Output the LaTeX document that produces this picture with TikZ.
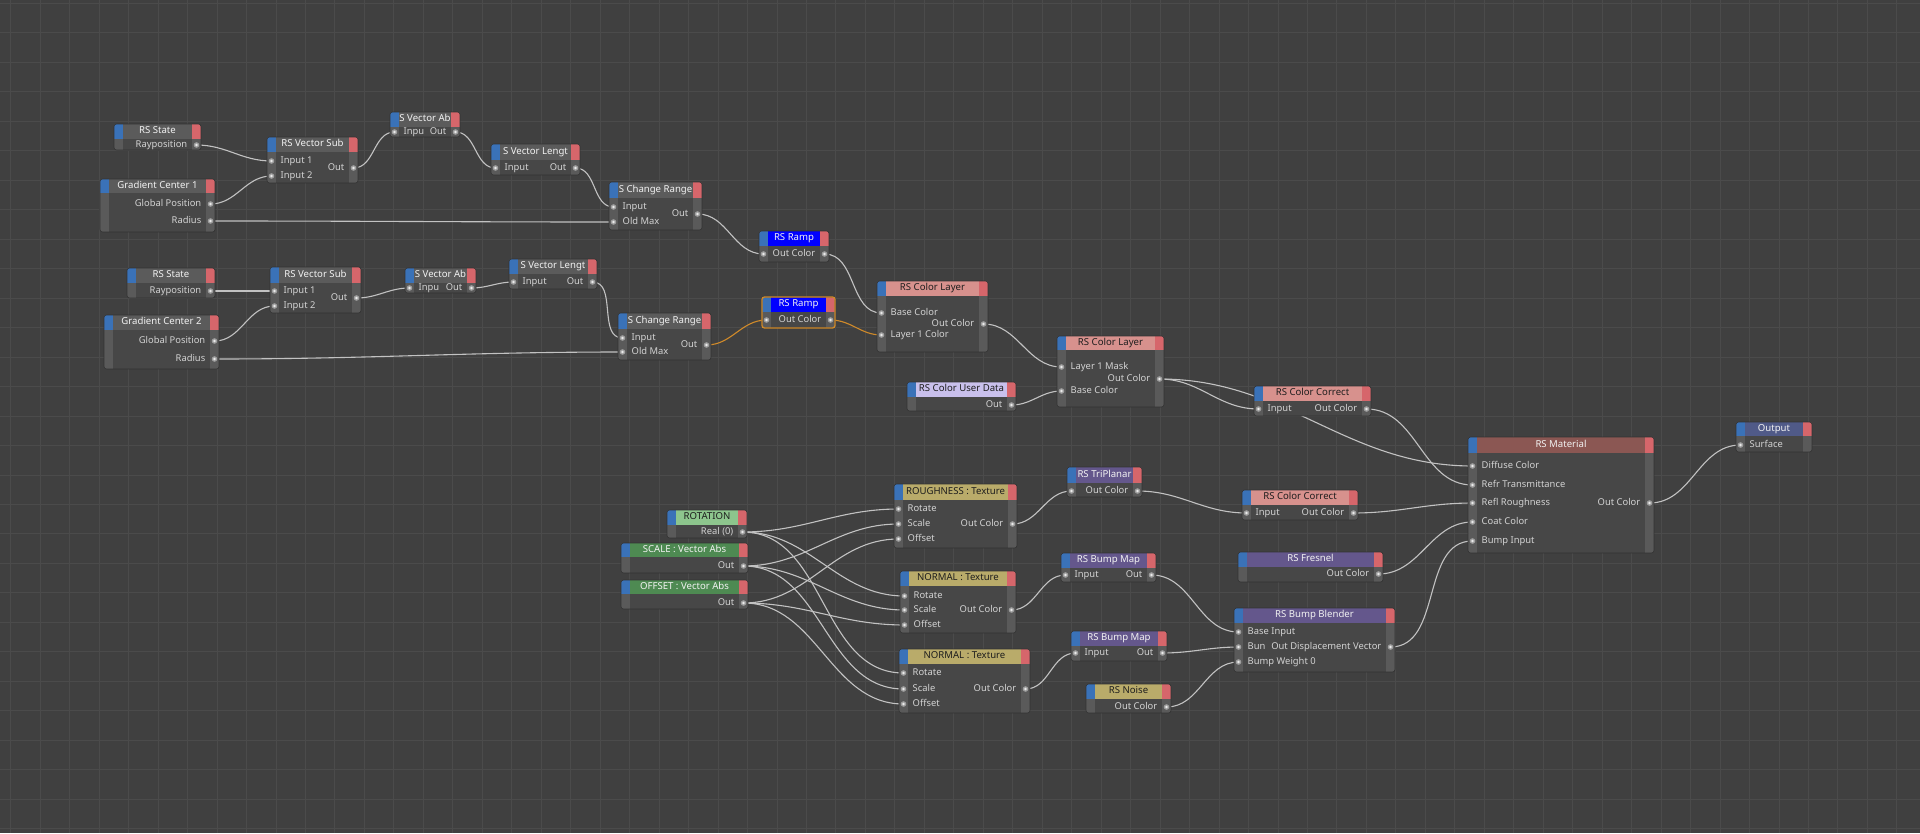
\documentclass[tikz,border=0pt]{standalone}
\usepackage{fontspec}
\setmainfont{Noto Sans}
\usepackage{tikz}

\definecolor{canvas}{HTML}{404040}
\definecolor{gridgray}{HTML}{4B4B4B}
\definecolor{bodygray}{HTML}{474747}
\definecolor{colgray}{HTML}{5A5A5A}
\definecolor{boxedge}{HTML}{333333}
\definecolor{stripblue}{HTML}{3A72B8}
\definecolor{stripred}{HTML}{D6666B}
\definecolor{hdrgray}{HTML}{5B5B5B}
\definecolor{hdrramp}{HTML}{0000FF}
\definecolor{hdrpink}{HTML}{D7918D}
\definecolor{hdrmat}{HTML}{8B5753}
\definecolor{hdrout}{HTML}{505A88}
\definecolor{hdrpurple}{HTML}{64578C}
\definecolor{hdrkhaki}{HTML}{B9AB6A}
\definecolor{hdrmint}{HTML}{8DC58D}
\definecolor{hdrgreen}{HTML}{4E8A52}
\definecolor{hdrlav}{HTML}{C9C0EC}
\definecolor{wiregray}{HTML}{C2C2C2}
\definecolor{wireorange}{HTML}{D08A2A}
\definecolor{labelgray}{HTML}{D2D2D2}
\definecolor{titlelight}{HTML}{F2F2F2}
\definecolor{titledark}{HTML}{1E1E1E}

\pgfdeclarelayer{canvaslayer}
\pgfdeclarelayer{wirelayer}
\pgfsetlayers{canvaslayer,wirelayer,main}

% box: name, left, top, right, header bottom, bottom, header colour, title colour, title
\newcommand{\rsbox}[9]{%
	\begin{scope}
		\clip[rounded corners=2.5pt] (#2,#3) rectangle (#4,#6);
		\fill[colgray] (#2,#3) rectangle (#4,#6);
		\fill[bodygray] ({#2+9},#5) rectangle ({#4-9},#6);
		\fill[stripblue] (#2,#3) rectangle ({#2+9},#5);
		\fill[#7] ({#2+9},#3) rectangle ({#4-9},#5);
		\node[boxtitle, text=#8] (#1) at ({(#2+#4)/2},{(#3+#5)/2}) {#9};
		\fill[stripred] ({#4-9},#3) rectangle (#4,#5);
	\end{scope}
	\draw[boxline] (#2,#3) rectangle (#4,#6);}
% ports: name, x, y, label
\newcommand{\inport}[4]{%
	\coordinate (#1) at (#2,#3);
	\fill[portring] (#1) circle (2.8pt);
	\fill[portdot] (#1) circle (1.3pt);
	\node[portlabel, anchor=west] (#1-txt) at ({#2+9},#3) {#4};}
\newcommand{\outport}[4]{%
	\coordinate (#1) at (#2,#3);
	\fill[portring] (#1) circle (2.8pt);
	\fill[portdot] (#1) circle (1.3pt);
	\node[portlabel, anchor=east] (#1-txt) at ({#2-9},#3) {#4};}

\begin{document}
\begin{tikzpicture}[x=1pt, y=-1pt,
	boxtitle/.style={inner sep=0pt, font=\fontsize{9.6}{11}\selectfont, text height=6.9pt, text depth=2pt},
	portlabel/.style={inner sep=0pt, text=labelgray, font=\fontsize{9.4}{11}\selectfont, text height=6.8pt, text depth=2pt},
	boxline/.style={draw=boxedge, line width=0.6pt, rounded corners=2.5pt},
	selline/.style={draw=wireorange, line width=1.3pt, rounded corners=2.5pt},
	portring/.style={fill=gray!75},
	portdot/.style={fill=white!92!black},
	gridline/.style={draw=gridgray, line width=1pt},
	wire/.style={draw=wiregray, line width=1.1pt, out=0, in=180},
	hotwire/.style={wire, draw=wireorange}]
	\useasboundingbox (0,0) rectangle (1920,833);
	\begin{pgfonlayer}{canvaslayer}
		% Canvas
		\fill[canvas] (0,0) rectangle (1920,833);
		\foreach \gx in {0,...,65} \draw[gridline] ({10.8+\gx*29.47},0) -- ++(0,833);
		\foreach \gy in {0,...,28} \draw[gridline] (0,{3.5+\gy*29.47}) -- ++(1920,0);
	\end{pgfonlayer}
	% Gradient 1
	\rsbox{state1}{114}{124}{201}{139}{150}{hdrgray}{titlelight}{RS State}
	\outport{state1-ray}{196.5}{145}{Rayposition}
	\rsbox{gc1}{100}{179}{215}{193}{232}{hdrgray}{titlelight}{Gradient Center 1}
	\outport{gc1-pos}{210.5}{204}{Global Position}
	\outport{gc1-rad}{210.5}{221}{Radius}
	\rsbox{sub1}{267}{137}{358}{152}{183}{hdrgray}{titlelight}{RS Vector Sub}
	\inport{sub1-in1}{271.5}{161}{Input 1}
	\inport{sub1-in2}{271.5}{176}{Input 2}
	\outport{sub1-out}{353.5}{168}{Out}
	\rsbox{abs1}{390}{112}{460}{127}{137}{hdrgray}{titlelight}{S Vector Ab}
	\inport{abs1-in}{394.5}{132}{Inpu}
	\outport{abs1-out}{455.5}{132}{Out}
	\rsbox{len1}{491}{144}{580}{160}{175}{hdrgray}{titlelight}{S Vector Lengt}
	\inport{len1-in}{495.5}{168}{Input}
	\outport{len1-out}{575.5}{168}{Out}
	\rsbox{cr1}{609}{182}{702}{198}{230}{hdrgray}{titlelight}{S Change Range}
	\inport{cr1-in}{613.5}{207}{Input}
	\inport{cr1-max}{613.5}{222}{Old Max}
	\outport{cr1-out}{697.5}{214}{Out}
	% Gradient 2
	\rsbox{state2}{127}{268}{215}{283}{298}{hdrgray}{titlelight}{RS State}
	\outport{state2-ray}{210.5}{291}{Rayposition}
	\rsbox{gc2}{104}{315}{219}{330}{369}{hdrgray}{titlelight}{Gradient Center 2}
	\outport{gc2-pos}{214.5}{341}{Global Position}
	\outport{gc2-rad}{214.5}{359}{Radius}
	\rsbox{sub2}{270}{267}{361}{283}{313}{hdrgray}{titlelight}{RS Vector Sub}
	\inport{sub2-in1}{274.5}{291}{Input 1}
	\inport{sub2-in2}{274.5}{306}{Input 2}
	\outport{sub2-out}{356.5}{298}{Out}
	\rsbox{abs2}{405}{268}{476}{283}{293}{hdrgray}{titlelight}{S Vector Ab}
	\inport{abs2-in}{409.5}{288}{Inpu}
	\outport{abs2-out}{471.5}{288}{Out}
	\rsbox{len2}{509}{259}{597}{274}{289}{hdrgray}{titlelight}{S Vector Lengt}
	\inport{len2-in}{513.5}{282}{Input}
	\outport{len2-out}{592.5}{282}{Out}
	\rsbox{cr2}{618}{313}{711}{329}{360}{hdrgray}{titlelight}{S Change Range}
	\inport{cr2-in}{622.5}{338}{Input}
	\inport{cr2-max}{622.5}{352}{Old Max}
	\outport{cr2-out}{706.5}{345}{Out}
	% Ramps and layers
	\rsbox{ramp1}{759}{231}{829}{246}{262}{hdrramp}{titlelight}{RS Ramp}
	\inport{ramp1-in}{763.5}{254}{}
	\outport{ramp1-out}{824.5}{254}{Out Color}
	\rsbox{ramp2}{762}{297}{835}{312}{328}{hdrramp}{titlelight}{RS Ramp}
	\draw[selline] (762,297) rectangle (835,328);
	\inport{ramp2-in}{766.5}{320}{}
	\outport{ramp2-out}{830.5}{320}{Out Color}
	\rsbox{cl1}{877}{281}{988}{296}{352}{hdrpink}{titledark}{RS Color Layer}
	\inport{cl1-base}{881.5}{313}{Base Color}
	\inport{cl1-layer}{881.5}{335}{Layer 1 Color}
	\outport{cl1-out}{983.5}{324}{Out Color}
	\rsbox{cl2}{1057}{336}{1164}{350}{407}{hdrpink}{titledark}{RS Color Layer}
	\inport{cl2-mask}{1061.5}{367}{Layer 1 Mask}
	\inport{cl2-base}{1061.5}{391}{Base Color}
	\outport{cl2-out}{1159.5}{379}{Out Color}
	\rsbox{ud}{907}{382}{1016}{397}{411}{hdrlav}{titledark}{RS Color User Data}
	\outport{ud-out}{1011.5}{405}{Out}
	\rsbox{cc1}{1254}{386}{1371}{401}{416}{hdrpink}{titledark}{RS Color Correct}
	\inport{cc1-in}{1258.5}{409}{Input}
	\outport{cc1-out}{1366.5}{409}{Out Color}
	% Material
	\rsbox{mat}{1468}{437}{1654}{453}{553}{hdrmat}{titlelight}{RS Material}
	\inport{mat-diff}{1472.5}{466}{Diffuse Color}
	\inport{mat-refr}{1472.5}{485}{Refr Transmittance}
	\inport{mat-refl}{1472.5}{503}{Refl Roughness}
	\inport{mat-coat}{1472.5}{522}{Coat Color}
	\inport{mat-bump}{1472.5}{541}{Bump Input}
	\outport{mat-out}{1649.5}{503}{Out Color}
	\rsbox{outp}{1736}{422}{1812}{436}{452}{hdrout}{titlelight}{Output}
	\inport{outp-surf}{1740.5}{445}{Surface}
	% Texture inputs
	\rsbox{rot}{667}{510}{747}{525}{538}{hdrmint}{titledark}{ROTATION}
	\outport{rot-out}{742.5}{532}{Real (0)}
	\rsbox{scl}{621}{543}{748}{557}{573}{hdrgreen}{titlelight}{SCALE : Vector Abs}
	\outport{scl-out}{743.5}{566}{Out}
	\rsbox{ofs}{621}{580}{748}{594}{609}{hdrgreen}{titlelight}{OFFSET : Vector Abs}
	\outport{ofs-out}{743.5}{603}{Out}
	% Textures
	\rsbox{tex1}{894}{484}{1017}{500}{548}{hdrkhaki}{titledark}{ROUGHNESS : Texture}
	\inport{tex1-rot}{898.5}{509}{Rotate}
	\inport{tex1-scl}{898.5}{524}{Scale}
	\inport{tex1-ofs}{898.5}{539}{Offset}
	\outport{tex1-out}{1012.5}{524}{Out Color}
	\rsbox{tex2}{900}{571}{1016}{586}{633}{hdrkhaki}{titledark}{NORMAL : Texture}
	\inport{tex2-rot}{904.5}{596}{Rotate}
	\inport{tex2-scl}{904.5}{610}{Scale}
	\inport{tex2-ofs}{904.5}{625}{Offset}
	\outport{tex2-out}{1011.5}{610}{Out Color}
	\rsbox{tex3}{899}{649}{1030}{664}{713}{hdrkhaki}{titledark}{NORMAL : Texture}
	\inport{tex3-rot}{903.5}{673}{Rotate}
	\inport{tex3-scl}{903.5}{689}{Scale}
	\inport{tex3-ofs}{903.5}{704}{Offset}
	\outport{tex3-out}{1025.5}{689}{Out Color}
	% Roughness and bump
	\rsbox{tri}{1067}{467}{1142}{483}{497}{hdrpurple}{titlelight}{RS TriPlanar}
	\inport{tri-in}{1071.5}{491}{}
	\outport{tri-out}{1137.5}{491}{Out Color}
	\rsbox{cc2}{1242}{490}{1358}{505}{520}{hdrpink}{titledark}{RS Color Correct}
	\inport{cc2-in}{1246.5}{513}{Input}
	\outport{cc2-out}{1353.5}{513}{Out Color}
	\rsbox{bump1}{1061}{553}{1156}{568}{582}{hdrpurple}{titlelight}{RS Bump Map}
	\inport{bump1-in}{1065.5}{575}{Input}
	\outport{bump1-out}{1151.5}{575}{Out}
	\rsbox{bump2}{1071}{631}{1167}{646}{661}{hdrpurple}{titlelight}{RS Bump Map}
	\inport{bump2-in}{1075.5}{653}{Input}
	\outport{bump2-out}{1162.5}{653}{Out}
	\rsbox{noise}{1086}{684}{1171}{699}{713}{hdrkhaki}{titledark}{RS Noise}
	\outport{noise-out}{1166.5}{707}{Out Color}
	\rsbox{fres}{1238}{552}{1383}{567}{582}{hdrpurple}{titlelight}{RS Fresnel}
	\outport{fres-out}{1378.5}{574}{Out Color}
	\rsbox{blend}{1234}{608}{1395}{623}{672}{hdrpurple}{titlelight}{RS Bump Blender}
	\inport{blend-base}{1238.5}{632}{Base Input}
	\inport{blend-bump}{1238.5}{647}{Bun}
	\inport{blend-weight}{1238.5}{662}{Bump Weight 0}
	\outport{blend-out}{1390.5}{647}{Out Displacement Vector}
	\begin{pgfonlayer}{wirelayer}
		% Wires top
		\draw[wire] (state1-ray) to (sub1-in1);
		\draw[wire] (gc1-pos) to (sub1-in2);
		\draw[wire] (gc1-rad) to (cr1-max);
		\draw[wire] (sub1-out) to (abs1-in);
		\draw[wire] (abs1-out) to (len1-in);
		\draw[wire] (len1-out) to (cr1-in);
		\draw[wire] (cr1-out) to (ramp1-in);
		\draw[wire] (ramp1-out) to (cl1-base);
		\draw[wire] (state2-ray) to (sub2-in1);
		\draw[wire] (gc2-pos) to (sub2-in2);
		\draw[wire] (gc2-rad) to (cr2-max);
		\draw[wire] (sub2-out) to (abs2-in);
		\draw[wire] (abs2-out) to (len2-in);
		\draw[wire] (len2-out) to (cr2-in);
		\draw[hotwire] (cr2-out) to (ramp2-in);
		\draw[hotwire] (ramp2-out) to (cl1-layer);
		\draw[wire] (cl1-out) to (cl2-mask);
		\draw[wire] (ud-out) to (cl2-base);
		\draw[wire] (cl2-out) to (cc1-in);
		\draw[wire] (cl2-out) to (mat-diff);
		\draw[wire] (cc1-out) to (mat-refr);
		\draw[wire] (mat-out) to (outp-surf);
		% Wires bottom
		\foreach \t in {tex1,tex2,tex3} {
			\draw[wire] (rot-out) to (\t-rot);
			\draw[wire] (scl-out) to (\t-scl);
			\draw[wire] (ofs-out) to (\t-ofs);
		}
		\draw[wire] (tex1-out) to (tri-in);
		\draw[wire] (tri-out) to (cc2-in);
		\draw[wire] (cc2-out) to (mat-refl);
		\draw[wire] (tex2-out) to (bump1-in);
		\draw[wire] (tex3-out) to (bump2-in);
		\draw[wire] (bump1-out) to (blend-base);
		\draw[wire] (bump2-out) to (blend-bump);
		\draw[wire] (noise-out) to (blend-weight);
		\draw[wire] (fres-out) to (mat-coat);
		\draw[wire] (blend-out) to (mat-bump);
	\end{pgfonlayer}
\end{tikzpicture}
\end{document}
